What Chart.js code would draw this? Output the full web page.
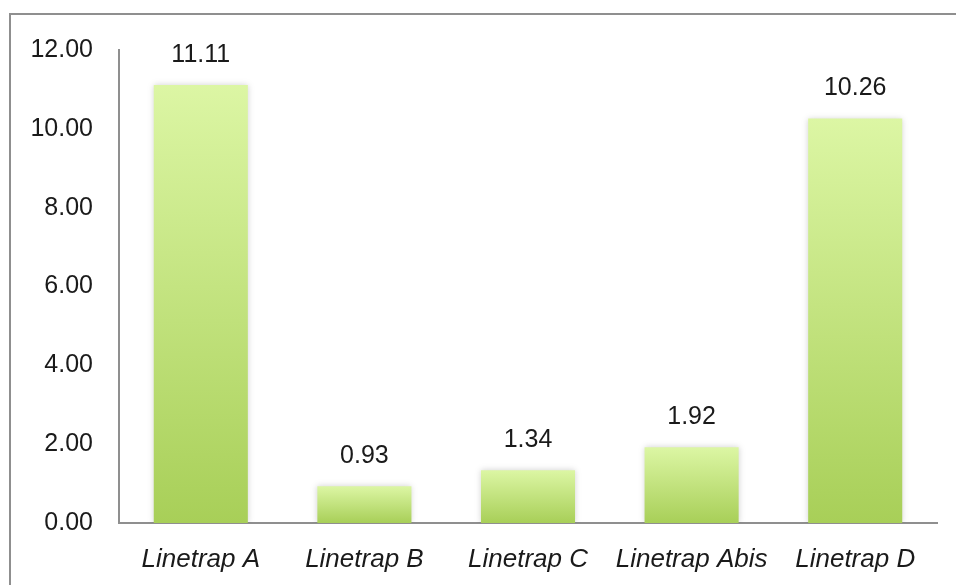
<!DOCTYPE html>
<html>
<head>
<meta charset="utf-8">
<script src="https://cdn.jsdelivr.net/npm/chart.js@4/dist/chart.umd.min.js"></script>
<style>
  html, body { margin: 0; padding: 0; background: #ffffff; }
  #wrap { position: relative; width: 956px; height: 585px; }
</style>
</head>
<body>
<div id="wrap"><canvas id="c" width="956" height="585"></canvas></div>
<script>
// Trap categories and their measured values
const categories = ['Linetrap A', 'Linetrap B', 'Linetrap C', 'Linetrap Abis', 'Linetrap D'];
const values = [11.11, 0.93, 1.34, 1.92, 10.26];
const yTicks = [0, 2, 4, 6, 8, 10, 12];

const FONT = '"Liberation Sans", Arial, Helvetica, sans-serif';

// Each bar fades from pale lime at its top to a deeper green at its base
function barGradient(ctx) {
  const chart = ctx.chart;
  const y = chart.scales && chart.scales.y;
  if (!y || !chart.chartArea || ctx.type !== 'data') return '#c4e57c';
  const top = y.getPixelForValue(values[ctx.dataIndex]);
  const base = y.getPixelForValue(0);
  const g = chart.ctx.createLinearGradient(0, top, 0, base);
  g.addColorStop(0, '#dcf6a4');
  g.addColorStop(1, '#a8cf58');
  return g;
}

// Gray outer frame (top and left edges fall inside the page)
const framePlugin = {
  id: 'frame',
  beforeDraw(chart) {
    const c = chart.ctx;
    c.save();
    c.strokeStyle = '#8f8f8f';
    c.lineWidth = 2;
    c.beginPath();
    c.moveTo(10, 600);
    c.lineTo(10, 14);
    c.lineTo(960, 14);
    c.stroke();
    c.restore();
  }
};

// Soft shadow around the bars
const shadowPlugin = {
  id: 'barShadow',
  beforeDatasetsDraw(chart) {
    const c = chart.ctx;
    c.save();
    c.shadowColor = 'rgba(0,0,0,0.18)';
    c.shadowBlur = 6;
    c.shadowOffsetX = 0;
    c.shadowOffsetY = 0;
  },
  afterDatasetsDraw(chart) {
    chart.ctx.restore();
  }
};

// Value printed above each bar
const valueLabels = {
  id: 'valueLabels',
  afterDatasetsDraw(chart) {
    const c = chart.ctx;
    const meta = chart.getDatasetMeta(0);
    c.save();
    c.font = '25px ' + FONT;
    c.fillStyle = '#1a1a1a';
    c.textAlign = 'center';
    c.textBaseline = 'middle';
    meta.data.forEach((bar, i) => {
      c.fillText(values[i].toFixed(2), bar.x, bar.y - 30);
    });
    c.restore();
  }
};

new Chart(document.getElementById('c'), {
  type: 'bar',
  data: {
    labels: categories,
    datasets: [{
      data: values,
      backgroundColor: barGradient,
      borderWidth: 0,
      barPercentage: 0.575,
      categoryPercentage: 1
    }]
  },
  options: {
    responsive: false,
    animation: false,
    devicePixelRatio: 1,
    layout: { padding: { top: 50, right: 19, bottom: 0, left: 0 } },
    plugins: {
      legend: { display: false },
      tooltip: { enabled: false }
    },
    scales: {
      x: {
        grid: { display: false, drawTicks: false },
        border: { display: true, color: '#8f8f8f', width: 2 },
        ticks: {
          color: '#1a1a1a',
          padding: 21,
          maxRotation: 0,
          font: { family: FONT, size: 26, style: 'italic' }
        },
        afterFit(s) { s.height = 62; }
      },
      y: {
        min: 0,
        max: 12,
        grid: { display: false, drawTicks: false },
        border: { display: true, color: '#8f8f8f', width: 2 },
        afterBuildTicks(s) { s.ticks = yTicks.map(v => ({ value: v })); },
        ticks: {
          color: '#1a1a1a',
          padding: 26,
          font: { family: FONT, size: 25 },
          callback: v => Number(v).toFixed(2)
        },
        afterFit(s) { s.width = 119; }
      }
    }
  },
  plugins: [framePlugin, shadowPlugin, valueLabels]
});
</script>
</body>
</html>
